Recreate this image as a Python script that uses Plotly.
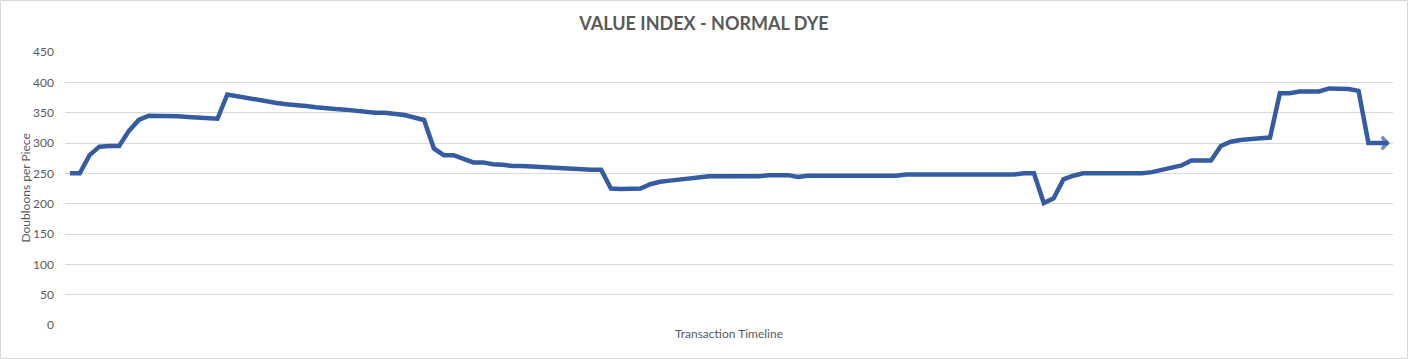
import plotly.graph_objects as go

title_text = "VALUE INDEX - NORMAL DYE"
x_title = "Transaction Timeline"
y_title = "Doubloons per Piece"
y_ticks = [0, 50, 100, 150, 200, 250, 300, 350, 400, 450]

values = [
    250, 250, 280, 294, 295, 295, 320, 338, 345, 345,   # 0-9
    345, 344, 343, 342, 341, 340, 380, 377, 374, 371,   # 10-19
    369, 366, 364, 363, 361, 359, 357, 356, 355, 353,   # 20-29
    352, 350, 350, 348, 346, 342, 338, 291, 280, 280,   # 30-39
    273, 268, 268, 265, 264, 262, 262, 261, 260, 259,   # 40-49
    258, 258, 257, 256, 256, 225, 224, 225, 225, 232,   # 50-59
    236, 238, 240, 242, 244, 245, 245, 245, 245, 245,   # 60-69
    245, 247, 247, 247, 244, 246, 246, 246, 246, 246,   # 70-79
    246, 246, 246, 246, 246, 248, 248, 248, 248, 248,   # 80-89
    248, 248, 248, 248, 248, 248, 248, 250, 250, 201,   # 90-99
    209, 240, 246, 250, 250, 250, 250, 250, 250, 250,   # 100-109
    252, 256, 260, 263, 271, 271, 271, 295, 302, 305,   # 110-119
    307, 308, 309, 382, 382, 385, 385, 385, 390, 390,   # 120-129
    389, 386, 300, 300, 300,                             # 130-134
]
timeline = list(range(len(values)))

line_color = "#355CA0"
n = len(values)
symbols = ["circle"] * (n - 1) + ["arrow-wide-open"]
sizes = [0] * (n - 1) + [9]

fig = go.Figure()
fig.add_trace(go.Scatter(
    x=timeline, y=values, mode="lines+markers",
    line=dict(color=line_color, width=4.5),
    marker=dict(symbol=symbols, size=sizes, color=line_color,
                angleref="previous", line=dict(width=3, color=line_color)),
    hoverinfo="skip", showlegend=False,
))

fig.update_layout(
    width=1408, height=359,
    margin=dict(l=65, r=15, t=52, b=34),
    paper_bgcolor="white", plot_bgcolor="white",
    font=dict(family="Lato, Open Sans, sans-serif", color="#595959"),
    title=dict(text=f"<b>{title_text}</b>", x=0.5, xanchor="center",
               y=1 - 24 / 359, yanchor="middle",
               font=dict(size=18, color="#595959", family="Lato, Open Sans, sans-serif")),
    xaxis=dict(range=[-0.5, n - 0.5], showticklabels=False, showgrid=False,
               zeroline=False, showline=False, ticks="",
               title=dict(text=x_title, font=dict(size=12, color="#595959"), standoff=4)),
    yaxis=dict(range=[0, 450], tickvals=y_ticks, showgrid=True, gridcolor="#d9d9d9",
               gridwidth=1, zeroline=False, showline=False, ticks="",
               ticklabelstandoff=10,
               tickfont=dict(size=12, color="#595959")),
    annotations=[dict(text=y_title, textangle=-90, xref="paper", yref="paper",
                      x=-40 / 1328, y=0.5, xanchor="center", yanchor="middle",
                      showarrow=False, font=dict(size=12, color="#595959"))],
    shapes=[dict(type="rect", xref="paper", yref="paper",
                 x0=-64.5 / 1328, x1=1 + 14.5 / 1328,
                 y0=-33.5 / 273, y1=1 + 51.5 / 273,
                 line=dict(color="#d9d9d9", width=1), layer="below")],
)

fig.write_html("out.html", config={"displayModeBar": False},
               post_script="document.body.style.margin='0';document.body.style.overflow='hidden';")
